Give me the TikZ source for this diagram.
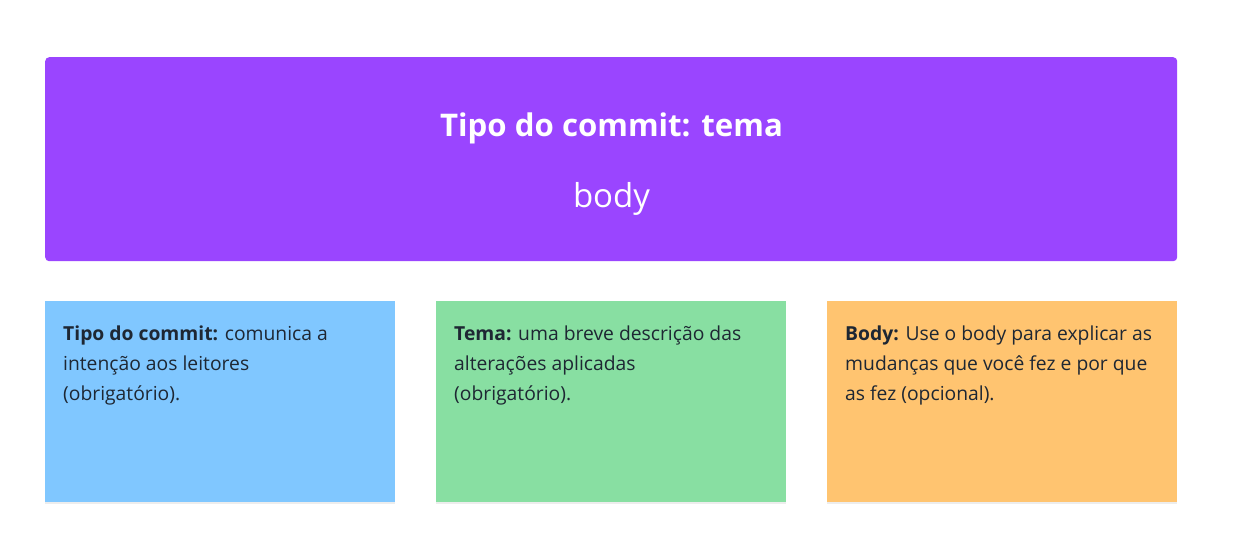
\documentclass[tikz,border=0pt]{standalone}
\usepackage{fontspec}
\setmainfont{Open Sans}
\usetikzlibrary{shadows}
\definecolor{purp}{HTML}{9A45FF}
\definecolor{bluenote}{HTML}{80C7FF}
\definecolor{greennote}{HTML}{88DFA2}
\definecolor{orangenote}{HTML}{FFC470}
\definecolor{txt}{HTML}{1E2733}
\tikzset{
  x=1pt,y=-1pt,
  note/.style={draw=none, minimum width=350pt, minimum height=201pt, anchor=north west, inner sep=0pt,
    drop shadow={shadow xshift=0pt, shadow yshift=-2pt, opacity=0.07, fill=black}},
  notetext/.style={anchor=north west, align=left, inner sep=0pt, text=txt, font=\fontsize{19.3}{30}\selectfont},
}
\begin{document}
\begin{tikzpicture}
\useasboundingbox (0,0) rectangle (1233,558);
\fill[white] (0,0) rectangle (1233,558);
\node[fill=purp, rounded corners=4pt, minimum width=1132pt, minimum height=204pt, anchor=north west, inner sep=0pt] (header) at (45,57) {};
\node[text=white, font=\fontsize{31.2}{36}\bfseries\selectfont, anchor=base] (title) at (611.5,136) {Tipo do commit: tema};
\node[text=white, font=\fontsize{33}{36}\selectfont, anchor=base] (body) at (611.5,207) {body};

\node[note, fill=bluenote] (n1) at (45,301) {};
\node[note, fill=greennote] (n2) at (436,301) {};
\node[note, fill=orangenote] (n3) at (827,301) {};

\node[notetext] (t1) at ([xshift=18pt,yshift=-25pt]n1.north west) {\textbf{Tipo do commit:} comunica a\\intenção aos leitores\\(obrigatório).};
\node[notetext] (t2) at ([xshift=18pt,yshift=-25pt]n2.north west) {\textbf{Tema:} uma breve descrição das\\alterações aplicadas\\(obrigatório).};
\node[notetext] (t3) at ([xshift=18pt,yshift=-25pt]n3.north west) {\textbf{Body:} Use o body para explicar as\\mudanças que você fez e por que\\as fez (opcional).};
\end{tikzpicture}
\end{document}
